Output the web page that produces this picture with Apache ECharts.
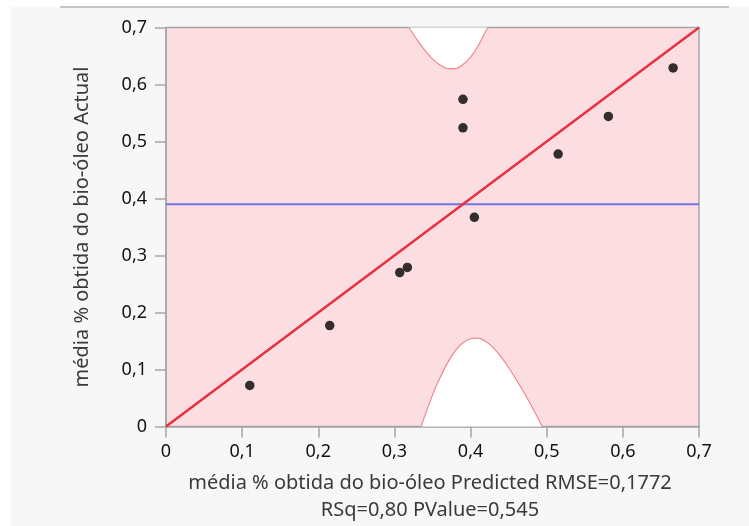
<!DOCTYPE html>
<html>
<head>
<meta charset="utf-8">
<script src="https://cdn.jsdelivr.net/npm/echarts@6/dist/echarts.min.js"></script>
<style>html,body{margin:0;padding:0;background:#fff;}#c{width:749px;height:526px;}</style>
</head>
<body>
<div id="c"></div>
<script>
// Observed points (Predicted, Actual)
var predicted = [0.110, 0.215, 0.307, 0.317, 0.390, 0.390, 0.405, 0.515, 0.581, 0.666];
var actual    = [0.072, 0.177, 0.270, 0.279, 0.574, 0.524, 0.367, 0.478, 0.544, 0.629];
// Fit line (red) and mean line (blue)
var fitX = [0, 0.7];
var fitY = [0, 0.7];
var meanX = [0, 0.7];
var meanY = [0.390, 0.390];
// Upper confidence curve
var upperX = [0.319, 0.330, 0.340, 0.350, 0.360, 0.370, 0.380, 0.390, 0.400, 0.410, 0.420, 0.4225];
var upperY = [0.700, 0.678, 0.660, 0.645, 0.634, 0.628, 0.628, 0.635, 0.648, 0.668, 0.694, 0.700];
// Lower confidence curve
var lowerX = [0.335, 0.350, 0.360, 0.370, 0.380, 0.390, 0.400, 0.410, 0.420, 0.430, 0.440, 0.450, 0.460, 0.470, 0.480, 0.490, 0.494];
var lowerY = [0.000, 0.055, 0.086, 0.112, 0.133, 0.147, 0.154, 0.155, 0.149, 0.138, 0.122, 0.103, 0.082, 0.060, 0.036, 0.011, 0.000];
// Tick labels
var tickLabels = ['0', '0,1', '0,2', '0,3', '0,4', '0,5', '0,6', '0,7'];
var xTitle1 = 'média % obtida do bio-óleo Predicted RMSE=0,1772';
var xTitle2 = 'RSq=0,80 PValue=0,545';
var yTitle = 'média % obtida do bio-óleo Actual';

function pairs(xs, ys) { return xs.map(function (x, i) { return [x, ys[i]]; }); }
var FONT = 'Noto Sans';

var chart = echarts.init(document.getElementById('c'), null, { renderer: 'canvas' });
function axisLabelStyle(margin) {
  return {
    show: true, margin: margin, color: '#111111', fontFamily: FONT, fontSize: 18,
    formatter: function (v) { return tickLabels[Math.round(v * 10)]; }
  };
}
var lineCol = '#a6a6a6';
chart.setOption({
  backgroundColor: '#f7f7f7',
  animation: false,
  grid: {
    left: 166, right: 50, top: 27.5, bottom: 99.5,
    show: true, backgroundColor: '#fcdee2', borderColor: lineCol, borderWidth: 1.5
  },
  xAxis: {
    type: 'value', min: 0, max: 0.7, interval: 0.1,
    splitLine: { show: false },
    axisLine: { show: true, lineStyle: { color: lineCol, width: 1.5 } },
    axisTick: { show: true, length: 11, lineStyle: { color: lineCol, width: 1.5 } },
    axisLabel: axisLabelStyle(16)
  },
  yAxis: {
    type: 'value', min: 0, max: 0.7, interval: 0.1,
    splitLine: { show: false },
    axisLine: { show: true, lineStyle: { color: lineCol, width: 1.5 } },
    axisTick: { show: true, length: 11, lineStyle: { color: lineCol, width: 1.5 } },
    axisLabel: axisLabelStyle(19),
    name: yTitle, nameLocation: 'middle', nameRotate: 90, nameGap: 74,
    nameTextStyle: { color: '#3a3a3a', fontFamily: FONT, fontSize: 20 }
  },
  graphic: [
    { type: 'rect', shape: { x: 0, y: 0, width: 749, height: 7 }, style: { fill: '#ffffff' }, silent: true },
    { type: 'rect', shape: { x: 0, y: 0, width: 11, height: 526 }, style: { fill: '#ffffff' }, silent: true },
    { type: 'line', shape: { x1: 60, y1: 7, x2: 729, y2: 7 }, style: { stroke: '#c4c4c4', lineWidth: 2 }, silent: true },
    { type: 'text', x: 430, y: 483, style: { text: xTitle1, fill: '#3a3a3a', font: '20px "' + FONT + '"', textAlign: 'center', textVerticalAlign: 'middle' } },
    { type: 'text', x: 430, y: 510, style: { text: xTitle2, fill: '#3a3a3a', font: '20px "' + FONT + '"', textAlign: 'center', textVerticalAlign: 'middle' } }
  ],
  series: [
    {
      type: 'line', data: pairs(upperX, upperY), smooth: 0.3, symbol: 'none', z: 1,
      lineStyle: { color: '#f08890', width: 1.2 },
      areaStyle: { origin: 'end', color: '#ffffff', opacity: 1 }
    },
    {
      type: 'line', data: pairs(lowerX, lowerY), smooth: 0.3, symbol: 'none', z: 1,
      lineStyle: { color: '#f08890', width: 1.2 },
      areaStyle: { origin: 'start', color: '#ffffff', opacity: 1 }
    },
    {
      type: 'line', data: pairs(meanX, meanY), symbol: 'none', z: 2,
      lineStyle: { color: '#7075e6', width: 2 }
    },
    {
      type: 'line', data: pairs(fitX, fitY), symbol: 'none', z: 3,
      lineStyle: { color: '#e8303f', width: 2.5 }
    },
    {
      type: 'scatter', data: pairs(predicted, actual), symbol: 'circle', symbolSize: 9.5, z: 4,
      itemStyle: { color: '#000000' }
    }
  ]
});
</script>
</body>
</html>
